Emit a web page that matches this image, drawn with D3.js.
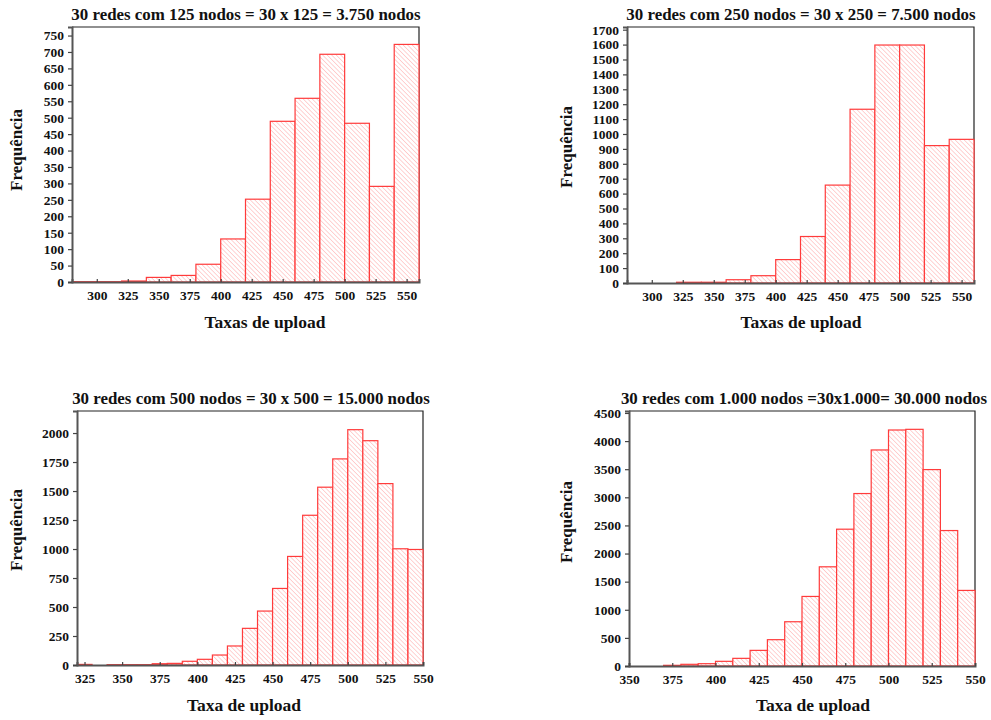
<!DOCTYPE html>
<html><head><meta charset="utf-8">
<script src="https://cdn.jsdelivr.net/npm/d3@7"></script>
<style>
html,body{margin:0;padding:0;background:#fff;}
svg text{font-family:"Liberation Serif","DejaVu Serif",serif;font-weight:bold;fill:#111;}
</style></head>
<body>
<svg id="chart" width="991" height="720"></svg>
<script>
// ---- data ----
const titles = [
  "30 redes com 125 nodos = 30 x 125 = 3.750 nodos",
  "30 redes com 250 nodos = 30 x 250 = 7.500 nodos",
  "30 redes com 500 nodos = 30 x 500 = 15.000 nodos",
  "30 redes com 1.000 nodos =30x1.000= 30.000 nodos"
];
const xLabels = ["Taxas de upload","Taxas de upload","Taxa de upload","Taxa de upload"];
const yLabel = "Frequência";

const binStarts125 = [280,300,320,340,360,380,400,420,440,460,480,500,520,540];
const counts125    = [1,1,3,14,20,54,131,252,489,559,693,483,291,723];

const binStarts250 = [280,300,320,340,360,380,400,420,440,460,480,500,520,540];
const counts250    = [0,0,5,5,22,49,157,312,657,1166,1597,1597,922,964];

const binStarts500 = [320,330,340,350,360,370,380,390,400,410,420,430,440,450,460,470,480,490,500,510,520,530,540];
const counts500    = [5,0,3,3,3,11,14,32,49,86,164,316,465,660,936,1291,1533,1777,2029,1934,1564,1002,996];

const binStarts1000 = [350,360,370,380,390,400,410,420,430,440,450,460,470,480,490,500,510,520,530,540];
const counts1000    = [0,0,12,30,41,83,136,278,468,787,1237,1764,2433,3067,3842,4197,4209,3493,2409,1344];

const xTicksA = [300,325,350,375,400,425,450,475,500,525,550];
const xTicks500 = [325,350,375,400,425,450,475,500,525,550];
const xTicks1000 = [350,375,400,425,450,475,500,525,550];
const yTicks125 = d3.range(0, 751, 50);
const yTicks250 = d3.range(0, 1701, 100);
const yTicks500 = [0,250,500,750,1000,1250,1500,1750,2000];
const yTicks1000 = [0,500,1000,1500,2000,2500,3000,3500,4000,4500];

// ---- layout ----
const panels = [
  {starts:binStarts125, counts:counts125, bw:20, xd:[280,560], yMax:776, xt:xTicksA, yt:yTicks125,
   box:{x0:72,x1:419,y0:27,y1:282}, title:{x:246,y:20}, xl:{x:265,y:328}, yl:{x:22,y:150}},
  {starts:binStarts250, counts:counts250, bw:20, xd:[280,560], yMax:1718, xt:xTicksA, yt:yTicks250,
   box:{x0:627,x1:974,y0:27,y1:283}, title:{x:801,y:20}, xl:{x:801,y:328}, yl:{x:572,y:147}},
  {starts:binStarts500, counts:counts500, bw:10, xd:[320,550], yMax:2190, xt:xTicks500, yt:yTicks500,
   box:{x0:77,x1:423,y0:411,y1:665}, title:{x:251,y:404}, xl:{x:244,y:711}, yl:{x:22,y:530}},
  {starts:binStarts1000, counts:counts1000, bw:10, xd:[350,550], yMax:4535, xt:xTicks1000, yt:yTicks1000,
   box:{x0:629,x1:975,y0:411,y1:666}, title:{x:804,y:404}, xl:{x:813,y:711}, yl:{x:572,y:522}}
];

const svg = d3.select("#chart");
const defs = svg.append("defs");
const pat = defs.append("pattern").attr("id","hatch")
  .attr("patternUnits","userSpaceOnUse").attr("width",3.2).attr("height",3.2)
  .attr("patternTransform","rotate(-45)");
pat.append("rect").attr("width",3.2).attr("height",3.2).attr("fill","#fff");
pat.append("line").attr("x1",0).attr("y1",0).attr("x2",0).attr("y2",3.2)
  .attr("stroke","#ffa8a8").attr("stroke-width",1);

panels.forEach((p,i)=>{
  const g = svg.append("g");
  const x = d3.scaleLinear().domain(p.xd).range([p.box.x0,p.box.x1]);
  const y = d3.scaleLinear().domain([0,p.yMax]).range([p.box.y1,p.box.y0]);

  // frame top/right
  g.append("path")
    .attr("d",`M${p.box.x0},${p.box.y0}H${p.box.x1}V${p.box.y1}`)
    .attr("fill","none").attr("stroke","#222").attr("stroke-width",1.2);

  // bars
  g.selectAll("rect.bar").data(p.counts.map((c,k)=>({s:p.starts[k],c}))).join("rect")
    .attr("class","bar")
    .attr("x",d=>x(d.s)).attr("width",d=>x(d.s+p.bw)-x(d.s))
    .attr("y",d=>y(d.c)).attr("height",d=>y(0)-y(d.c))
    .attr("fill","url(#hatch)").attr("stroke","#ff3b3b").attr("stroke-width",1.2);

  // axes
  const ya = g.append("g").attr("transform",`translate(${p.box.x0},0)`)
    .call(d3.axisLeft(y).tickValues(p.yt).tickSize(4).tickPadding(4).tickFormat(d3.format("d")));
  const xa = g.append("g").attr("transform",`translate(0,${p.box.y1})`)
    .call(d3.axisBottom(x).tickValues(p.xt).tickSize(-3).tickPadding(6).tickFormat(d3.format("d")));
  [ya,xa].forEach(a=>{
    a.select(".domain").attr("stroke","#555").attr("stroke-width",2);
    a.selectAll(".tick line").attr("stroke","#444").attr("stroke-width",1.2);
    a.selectAll(".tick text").attr("font-size",13.5).attr("fill","#111")
      .attr("font-family","Liberation Serif, serif").attr("font-weight","bold");
  });
  xa.selectAll(".tick text").attr("dy","0.9em");

  // titles & labels
  g.append("text").attr("x",p.title.x).attr("y",p.title.y).attr("text-anchor","middle")
    .attr("font-size",16.9).text(titles[i]);
  g.append("text").attr("x",p.xl.x).attr("y",p.xl.y).attr("text-anchor","middle")
    .attr("font-size",17.5).text(xLabels[i]);
  g.append("text").attr("transform",`translate(${p.yl.x},${p.yl.y}) rotate(-90)`)
    .attr("text-anchor","middle").attr("font-size",17).text(yLabel);
});
</script>
</body></html>
